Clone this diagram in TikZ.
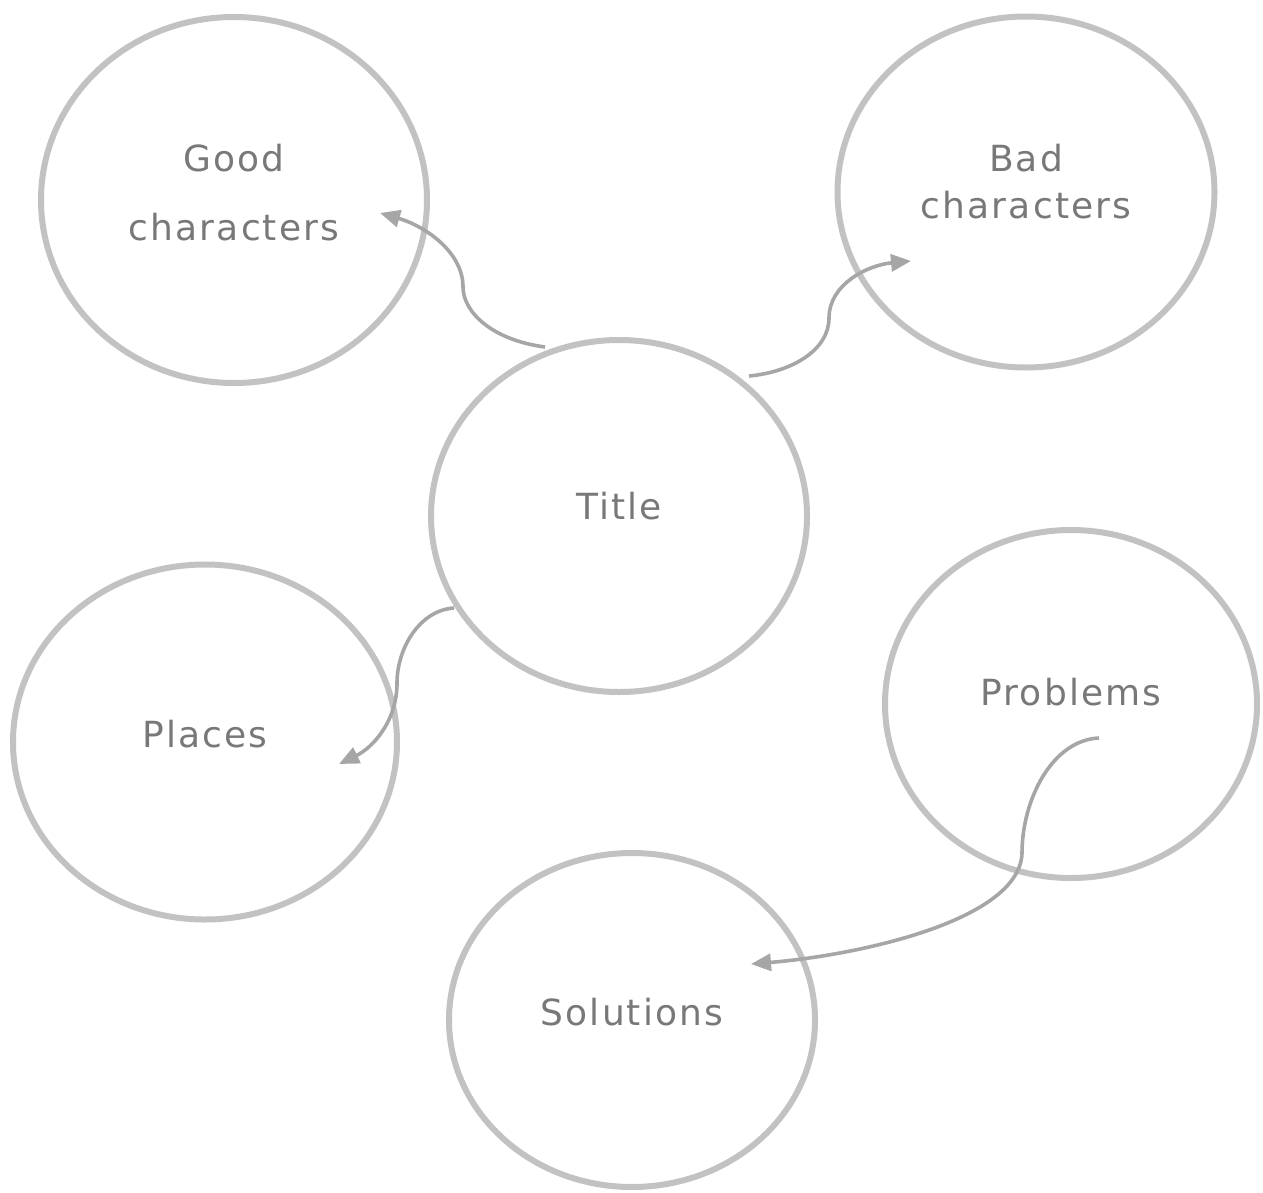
\documentclass[tikz,border=0pt]{standalone}
\usepackage{fontspec}
\setmainfont{DejaVu Sans}
\newfontfamily\lblfont[LetterSpace=6]{DejaVu Sans}
\usetikzlibrary{shapes.geometric,arrows.meta}
\definecolor{ringgray}{HTML}{C2C2C2}
\definecolor{arrowgray}{HTML}{A6A6A6}
\definecolor{textgray}{HTML}{787878}
\tikzset{
  bubble/.style={draw=ringgray, line width=6pt, ellipse, inner sep=0pt, outer sep=0pt},
  lbl/.style={text=textgray, font=\lblfont\fontsize{36}{40}\selectfont, inner sep=0pt, anchor=base},
  link/.style={draw=arrowgray, line width=3.6pt, -{Triangle[length=20pt,width=17pt]}}
}
\begin{document}
\begin{tikzpicture}[x=1pt,y=-1pt]
\useasboundingbox (0,0) rectangle (1263,1192);
% ellipses
\node[bubble, minimum width=386pt, minimum height=366pt] (good) at (234,200) {};
\node[bubble, minimum width=377pt, minimum height=351pt] (bad) at (1026,192) {};
\node[bubble, minimum width=376pt, minimum height=352pt] (title) at (619,516) {};
\node[bubble, minimum width=384pt, minimum height=355pt] (places) at (205,742) {};
\node[bubble, minimum width=372pt, minimum height=348pt] (problems) at (1071,704) {};
\node[bubble, minimum width=366pt, minimum height=334pt] (solutions) at (632,1020) {};
% labels
\node[lbl] (tgood1) at (234,171) {Good};
\node[lbl] (tgood2) at (234,240) {characters};
\node[lbl] (tbad1) at (1026,171) {Bad};
\node[lbl] (tbad2) at (1026,218) {characters};
\node[lbl] (ttitle) at (619,519) {Title};
\node[lbl] (tplaces) at (205,747) {Places};
\node[lbl] (tproblems) at (1071,705) {Problems};
\node[lbl] (tsolutions) at (632,1025) {Solutions};
% arrow ends
\coordinate (s1) at (545,347);
\coordinate (e1) at (380,213);
\coordinate (s2) at (749,376);
\coordinate (e2) at (911,261);
\coordinate (s3) at (454,608);
\coordinate (e3) at (339,764);
\coordinate (s4) at (1099,738);
\coordinate (e4) at (751,964);
% connectors
\draw[link] (s1) .. controls (492,340) and (463,312) .. (463,287) .. controls (463,252) and (425,226) .. (e1);
\draw[link] (s2) .. controls (792,372) and (829,350) .. (829,318) .. controls (829,284) and (868,265) .. (e2);
\draw[link] (s3) .. controls (420,610) and (397,648) .. (397,683) .. controls (397,722) and (372,748) .. (e3);
\draw[link] (s4) .. controls (1052,740) and (1022,800) .. (1022,853) .. controls (1020,920) and (860,955) .. (e4);
\end{tikzpicture}
\end{document}
